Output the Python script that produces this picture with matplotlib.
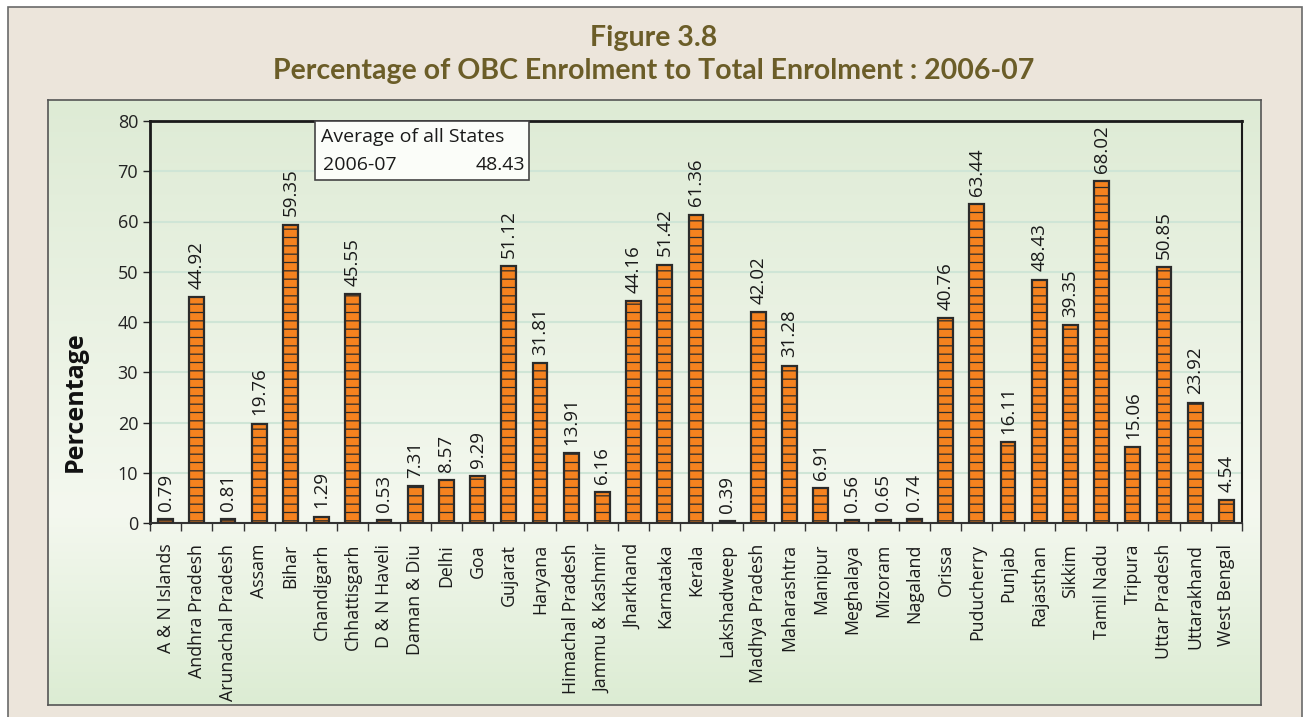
import numpy as np
import matplotlib
matplotlib.use("Agg")
import matplotlib.pyplot as plt
from matplotlib.patches import Rectangle
from matplotlib.colors import LinearSegmentedColormap

states = [
    "A & N Islands", "Andhra Pradesh", "Arunachal Pradesh", "Assam", "Bihar",
    "Chandigarh", "Chhattisgarh", "D & N Haveli", "Daman & Diu", "Delhi",
    "Goa", "Gujarat", "Haryana", "Himachal Pradesh", "Jammu & Kashmir",
    "Jharkhand", "Karnataka", "Kerala", "Lakshadweep", "Madhya Pradesh",
    "Maharashtra", "Manipur", "Meghalaya", "Mizoram", "Nagaland", "Orissa",
    "Puducherry", "Punjab", "Rajasthan", "Sikkim", "Tamil Nadu", "Tripura",
    "Uttar Pradesh", "Uttarakhand", "West Bengal",
]
obc_pct = [
    0.79, 44.92, 0.81, 19.76, 59.35, 1.29, 45.55, 0.53, 7.31, 8.57,
    9.29, 51.12, 31.81, 13.91, 6.16, 44.16, 51.42, 61.36, 0.39, 42.02,
    31.28, 6.91, 0.56, 0.65, 0.74, 40.76, 63.44, 16.11, 48.43, 39.35,
    68.02, 15.06, 50.85, 23.92, 4.54,
]
avg_label = "2006-07"
avg_value = 48.43
yticks = [0, 10, 20, 30, 40, 50, 60, 70, 80]

W, H = 1307, 717
plt.rcParams["font.family"] = ["Open Sans", "DejaVu Sans"]
plt.rcParams["hatch.color"] = "#6a6058"
plt.rcParams["hatch.linewidth"] = 0.9

fig = plt.figure(figsize=(W / 100, H / 100), dpi=100)
fig.patch.set_facecolor("white")

# outer beige frame
fig.patches.append(Rectangle((8 / W, -0.02), 1294 / W, 1 - 7 / H + 0.02,
                             transform=fig.transFigure, facecolor="#ece5db",
                             edgecolor="#6a6a6a", linewidth=1.2, zorder=-10))

# green gradient panel
bg = fig.add_axes([48 / W, 12 / H, 1213 / W, 605 / H], zorder=-5)
grad = LinearSegmentedColormap.from_list(
    "g", [(0, "#dcecd3"), (0.32, "#f4f8ef"), (1, "#deebd5")])
bg.imshow(np.linspace(0, 1, 256)[:, None], aspect="auto", cmap=grad,
          origin="lower", extent=[0, 1, 0, 1])
bg.set_xticks([])
bg.set_yticks([])
for s in bg.spines.values():
    s.set_color("#555555")
    s.set_linewidth(1.2)

# titles
title_color = "#6b5d28"
fig.text(654 / W, 1 - 38 / H, "Figure 3.8", ha="center", va="center",
         fontsize=20.5, fontweight="bold", color=title_color, family="Lato")
fig.text(654 / W, 1 - 71 / H,
         "Percentage of OBC Enrolment to Total Enrolment : 2006-07",
         ha="center", va="center", fontsize=20.5, fontweight="bold",
         color=title_color, family="Lato")

ax = fig.add_axes([150 / W, 1 - 523 / H, 1092 / W, 402 / H], zorder=1)
ax.patch.set_alpha(0)

x = np.arange(len(states))
ax.bar(x, obc_pct, width=0.47, color="#f5821f", edgecolor="#2b2b2b",
       linewidth=1.6, hatch="--", zorder=3)

for xi, v in zip(x, obc_pct):
    ax.annotate(f"{v:.2f}", (xi, v), xytext=(0, 6), textcoords="offset points",
                rotation=90, ha="center", va="bottom", fontsize=13.5,
                color="#1a1a1a")

ax.set_xlim(-0.5, len(states) - 0.5)
ax.set_ylim(0, 80)
ax.set_yticks(yticks)
ax.tick_params(axis="y", labelsize=13, length=5, width=1, colors="#222222")
ax.yaxis.grid(True, color="#cfe5d6", linewidth=1.5, zorder=0)
ax.set_axisbelow(True)

ax.set_xticks(x)
ax.set_xticklabels(states, rotation=90, fontsize=12.8, color="#1a1a1a")
ax.tick_params(axis="x", length=0, pad=15)
ax.set_xticks(np.arange(-0.5, len(states)), minor=True)
ax.tick_params(axis="x", which="minor", length=6, width=1, color="#333333")

ax.spines["left"].set_linewidth(2)
ax.spines["top"].set_linewidth(2)
ax.spines["right"].set_linewidth(1.5)
ax.spines["bottom"].set_linewidth(1.5)
ax.spines["bottom"].set_color("#333333")
for s in ["left", "top", "right"]:
    ax.spines[s].set_color("#1a1a1a")

fig.text(75 / W, 1 - 402 / H, "Percentage", rotation=90, ha="center",
         va="center", fontsize=18, fontweight="bold", color="#111111")

# average box
box = Rectangle((315 / W, 1 - 180 / H), 214 / W, 59 / H,
                transform=fig.transFigure, facecolor="#fbfdf9",
                edgecolor="#444444", linewidth=1.2, zorder=5)
fig.patches.append(box)
fig.text(321 / W, 1 - 137 / H, "Average of all States", fontsize=14,
         va="center", ha="left", color="#1a1a1a", zorder=6)
fig.text(323 / W, 1 - 165 / H, avg_label, fontsize=14, va="center",
         ha="left", color="#1a1a1a", zorder=6)
fig.text(525 / W, 1 - 165 / H, f"{avg_value:.2f}", fontsize=14,
         va="center", ha="right", color="#1a1a1a", zorder=6)

fig.savefig("out.png", dpi=100)
